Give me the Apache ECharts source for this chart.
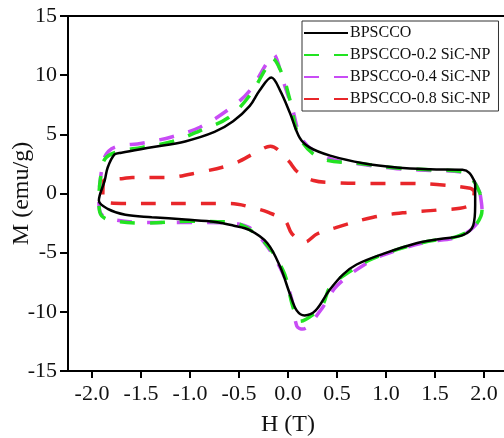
<!DOCTYPE html>
<html>
<head>
<meta charset="utf-8">
<script src="https://cdn.jsdelivr.net/npm/echarts@6/dist/echarts.min.js"></script>
<style>
html,body{margin:0;padding:0;background:#fff;}
#chart{width:504px;height:438px;}
</style>
</head>
<body>
<div id="chart"></div>
<script>
var seriesNames = ['BPSCCO', 'BPSCCO-0.2 SiC-NP', 'BPSCCO-0.4 SiC-NP', 'BPSCCO-0.8 SiC-NP'];
var xTickValues = [-2.0, -1.5, -1.0, -0.5, 0.0, 0.5, 1.0, 1.5, 2.0];
var yTickValues = [-15, -10, -5, 0, 5, 10, 15];

// BPSCCO (closed loop)
var bpsccoH = [1.91, 1.85, 1.78, 1.45, 1.11, 0.77, 0.43, 0.22, 0.12, 0.02, -0.08, -0.17, -0.29, -0.39, -0.56, -0.75, -1.05, -1.39, -1.70, -1.77, -1.84, -1.87, -1.93,
  -1.84, -1.66, -1.39, -1.05, -0.74, -0.56, -0.39, -0.21, -0.08, 0.02, 0.09, 0.17, 0.28, 0.42, 0.56, 0.70, 0.97, 1.31, 1.55, 1.79, 1.89, 1.91, 1.91];
var bpsccoM = [0.9, 1.75, 2.0, 2.05, 2.2, 2.55, 3.2, 3.9, 4.7, 6.8, 8.7, 9.8, 8.7, 7.4, 6.1, 5.2, 4.4, 3.9, 3.45, 3.3, 2.2, 1.1, -0.6,
  -1.3, -1.8, -2.0, -2.2, -2.4, -2.7, -3.1, -4.2, -6.2, -8.5, -9.9, -10.3, -9.9, -8.2, -6.85, -6.0, -5.1, -4.2, -3.85, -3.5, -2.7, -1.0, 0.9];

// BPSCCO-0.2 SiC-NP
var sic02H = [1.96, 1.89, 1.78, 1.45, 1.11, 0.77, 0.33, 0.12, 0.02, -0.06, -0.16, -0.21, -0.39, -0.61, -0.9, -1.18, -1.49, -1.75, -1.87, -1.91, -1.93,
  -1.92, -1.84, -1.46, -1.0, -0.6, -0.29, -0.05, 0.04, 0.09, 0.12, 0.26, 0.36, 0.43, 0.63, 0.84, 1.11, 1.42, 1.72, 1.90, 1.98, 1.96];
var sic02M = [0.0, 1.1, 1.85, 2.0, 2.15, 2.5, 3.0, 4.7, 7.9, 10.1, 11.4, 10.8, 8.3, 6.4, 5.3, 4.4, 3.9, 3.5, 2.9, 1.5, -0.5,
  -1.6, -2.2, -2.5, -2.35, -2.4, -3.7, -6.5, -9.3, -10.5, -10.8, -10.2, -9.3, -7.9, -6.6, -5.6, -4.75, -4.05, -3.65, -2.8, -1.4, 0.0];

// BPSCCO-0.4 SiC-NP
var sic04H = [1.96, 1.89, 1.78, 1.45, 1.11, 0.77, 0.40, 0.15, 0.04, -0.05, -0.15, -0.21, -0.39, -0.59, -0.9, -1.18, -1.49, -1.77, -1.87, -1.91, -1.93,
  -1.92, -1.84, -1.46, -1.0, -0.59, -0.39, -0.21, -0.05, 0.04, 0.09, 0.15, 0.33, 0.5, 0.84, 1.11, 1.42, 1.72, 1.90, 1.98, 1.96];
var sic04M = [0.0, 1.1, 1.8, 1.95, 2.1, 2.45, 3.0, 4.5, 7.3, 9.5, 11.75, 11.1, 8.7, 7.2, 5.6, 4.8, 4.25, 3.9, 3.1, 1.5, -0.5,
  -1.5, -2.1, -2.45, -2.45, -2.5, -2.9, -4.5, -6.8, -9.0, -11.2, -11.45, -9.9, -7.8, -5.7, -4.8, -4.1, -3.7, -2.8, -1.4, 0.0];

// BPSCCO-0.8 SiC-NP
var sic08H = [1.9, 1.86, 1.52, 1.17, 0.84, 0.45, 0.26, 0.1, 0.0, -0.18, -0.32, -0.56, -0.9, -1.26, -1.59, -1.68, -1.88, -1.89,
  -1.63, -1.29, -0.9, -0.59, -0.33, -0.2, -0.03, 0.04, 0.17, 0.3, 0.48, 0.87, 1.21, 1.52, 1.86, 1.9];
var sic08M = [0.2, 0.45, 0.76, 0.85, 0.85, 0.93, 1.1, 1.8, 2.8, 4.0, 3.5, 2.5, 1.8, 1.35, 1.35, 1.27, 1.1, -0.6,
  -0.85, -0.85, -0.85, -0.85, -1.27, -1.6, -2.3, -3.4, -4.1, -3.4, -2.9, -2.0, -1.6, -1.4, -1.0, 0.2];

function pairs(h, m) { return h.map(function (v, i) { return [v, m[i]]; }); }

var FONT = "'Liberation Serif', 'Times New Roman', serif";
var chart = echarts.init(document.getElementById('chart'), null, { renderer: 'canvas' });

var colors = ['#000000', '#22e322', '#c84cf5', '#e8262a'];
var data = [pairs(bpsccoH, bpsccoM), pairs(sic02H, sic02M), pairs(sic04H, sic04M), pairs(sic08H, sic08M)];

var series = seriesNames.map(function (name, i) {
  return {
    name: name,
    type: 'line',
    data: data[i],
    showSymbol: false,
    symbol: 'none',
    smooth: 0.35,
    z: 10 - i,
    lineStyle: i === 0 ? { color: colors[i], width: 2.5 } :
      { color: colors[i], width: 3.5, type: [15, 15], cap: 'butt' },
    itemStyle: { color: colors[i] }
  };
});
series[0].z = 20;

chart.setOption({
  animation: false,
  backgroundColor: '#ffffff',
  grid: { left: 68, top: 16, width: 440, height: 355, containLabel: false, outerBoundsMode: 'none' },
  legend: {
    data: seriesNames,
    orient: 'vertical',
    left: 302,
    top: 21,
    padding: [4, 8, 4, 1],
    itemGap: 6,
    itemWidth: 44,
    itemHeight: 17,
    borderColor: '#333',
    borderWidth: 1,
    backgroundColor: '#fff',
    itemStyle: { opacity: 0, borderWidth: 0 },
    textStyle: { fontFamily: FONT, fontSize: 16, color: '#111', padding: [0, 0, 0, -3] }
  },
  xAxis: [{
    type: 'value',
    min: -2.245,
    max: 2.245,
    name: 'H (T)',
    nameLocation: 'middle',
    nameGap: 42,
    nameTextStyle: { fontFamily: FONT, fontSize: 24, color: '#111' },
    axisLine: { show: true, onZero: false, lineStyle: { color: '#000', width: 2 } },
    axisTick: { show: true, inside: false, length: 7, customValues: xTickValues, lineStyle: { color: '#000', width: 2 } },
    axisLabel: {
      customValues: xTickValues, margin: 12,
      fontFamily: FONT, fontSize: 22, color: '#111',
      formatter: function (v) { return v.toFixed(1); }
    },
    splitLine: { show: false }
  }, {
    type: 'value',
    position: 'top',
    min: -2.245,
    max: 2.245,
    axisLine: { show: true, onZero: false, lineStyle: { color: '#000', width: 2 } },
    axisTick: { show: false },
    axisLabel: { show: false },
    splitLine: { show: false }
  }],
  yAxis: {
    type: 'value',
    min: -15,
    max: 15,
    interval: 5,
    name: 'M (emu/g)',
    nameLocation: 'middle',
    nameGap: 34,
    nameMoveOverlap: false,
    nameTextStyle: { fontFamily: FONT, fontSize: 24, color: '#111' },
    axisLine: { show: true, onZero: false, lineStyle: { color: '#000', width: 2 } },
    axisTick: { show: true, inside: false, length: 8, lineStyle: { color: '#000', width: 2 } },
    axisLabel: { margin: 11, fontFamily: FONT, fontSize: 22, color: '#111' },
    splitLine: { show: false }
  },
  series: series
});
</script>
</body>
</html>
